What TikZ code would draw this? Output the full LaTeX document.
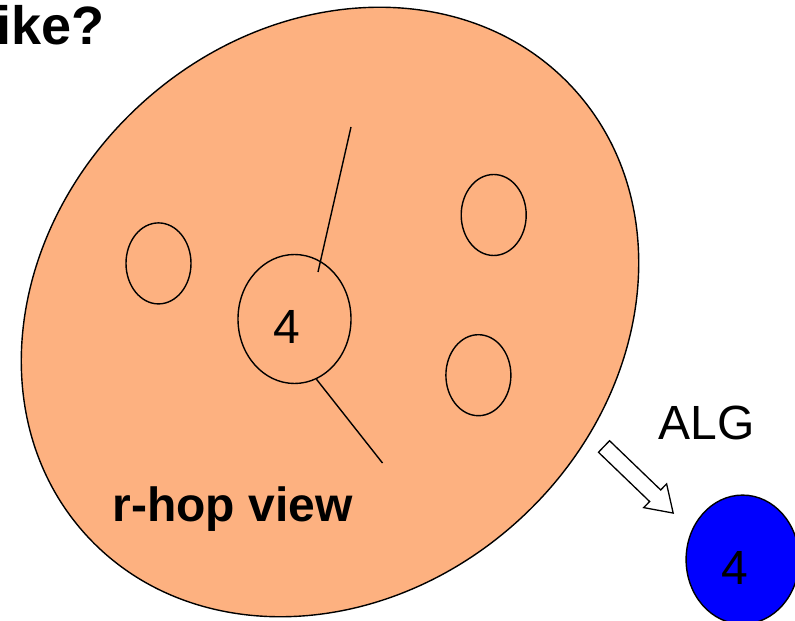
\documentclass[tikz,border=0pt]{standalone}
\usepackage{tikz}
\usetikzlibrary{shapes.geometric, positioning}
\usepackage{fontspec}
\setmainfont{Liberation Sans}
\definecolor{viewfill}{RGB}{253,177,128}

\begin{document}
\begin{tikzpicture}[x=1pt, y=1pt, line width=1.4pt,
    nbr/.style={ellipse, draw, inner sep=0, minimum width=65pt, minimum height=81pt},
    self/.style={ellipse, draw, inner sep=0, minimum width=113pt, minimum height=129pt},
    digit/.style={font=\fontsize{48}{48}\selectfont, xshift=-8pt, yshift=-8pt},
    hollow/.style={draw, fill=white, line width=1.3pt, line join=miter}]
        \clip (0,0) rectangle (795,621);
        % the r-hop view of node 4
        \node[ellipse, draw, fill=viewfill, inner sep=0, minimum width=661pt, minimum height=562pt, rotate=42.7] (view) at (330,309) {};
        \node[nbr] (n1) at (158.5,357.6) {};
        \node[nbr] (n2) at (493.7,406) {};
        \node[nbr] (n3) at (478.4,245.8) {};
        \node[self, label={[digit]center:4}] (me) at (294.5,302) {};
        \coordinate (up) at (351,494);
        \coordinate (in) at (318,349);
        \coordinate (down) at (382.5,158);
        \draw (up) -- (in);
        \draw (me.-70) -- (down);
        \node[anchor=base west, inner sep=0, font=\bfseries\fontsize{48}{48}\selectfont] (rhop) at (111.7,99.5) {r-hop view};
        % output of the algorithm
        \draw[hollow, shift={(604,174.5)}, rotate=-43.9] (0,-8) -- (71,-8) -- (71,-16.5) -- (96,0) -- (71,16.5) -- (71,8) -- (0,8) -- cycle;
        \node[anchor=base west, inner sep=0, font=\fontsize{48}{48}\selectfont] (alg) at (658,181) {ALG};
        \node[self, fill=blue, label={[digit]center:4}] (out) at (742.6,61.4) {};
        \node[anchor=base west, inner sep=0, font=\bfseries\fontsize{54}{54}\selectfont] (title) at (-4,576) {ike?};
      \end{tikzpicture}
\end{document}
